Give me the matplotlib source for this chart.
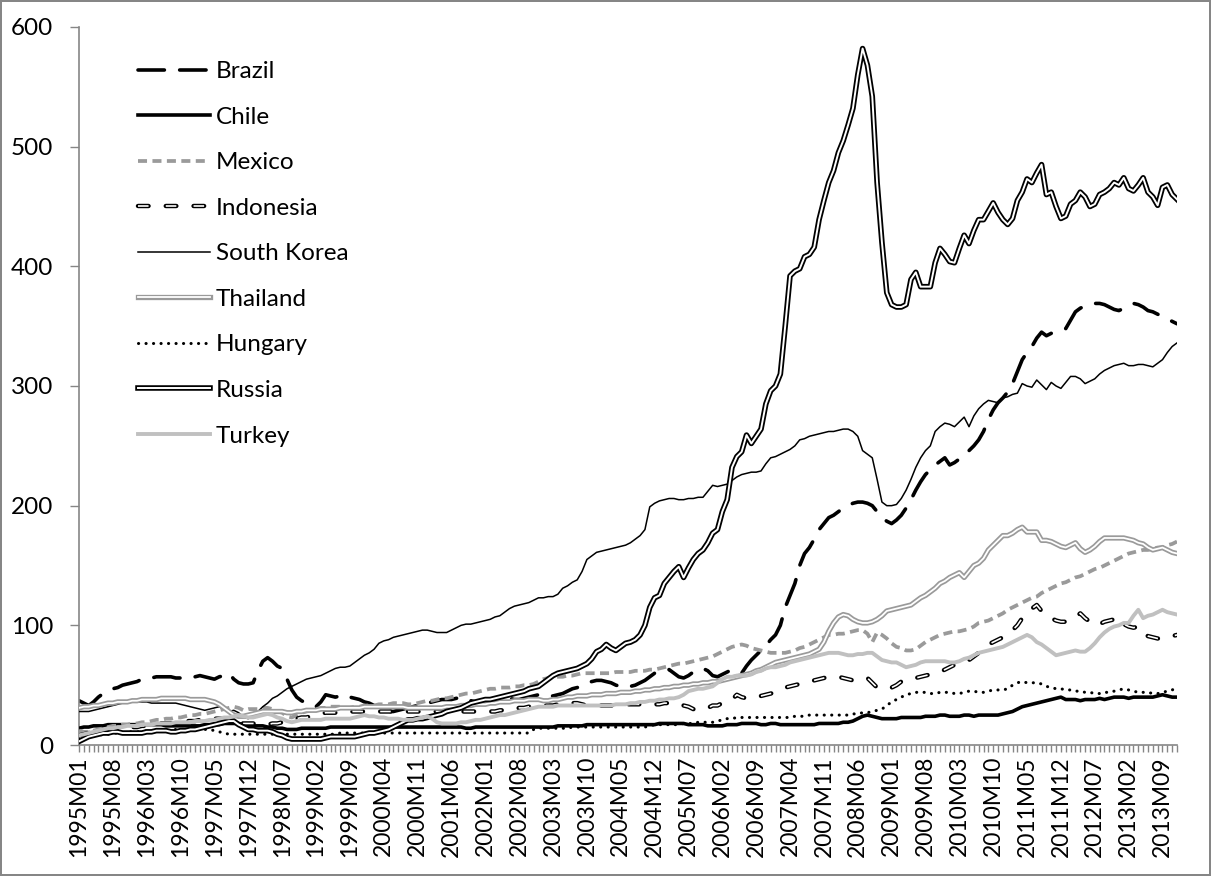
import matplotlib
matplotlib.use('Agg')
import matplotlib.pyplot as plt

plt.rcParams['font.family'] = ['Lato', 'DejaVu Sans']
plt.rcParams['lines.scale_dashes'] = False

# months 1995M01 .. 2013M12
years = list(range(1995, 2014))
months = ['%dM%02d' % (y, m) for y in years for m in range(1, 13)]

brazil = [
    37, 35, 33, 36, 40, 43, 45, 47, 48, 50, 51, 52,
    53, 55, 56, 56, 57, 57, 57, 57, 56, 56, 57, 57,
    57, 58, 57, 56, 55, 57, 58, 60, 55, 52, 51, 51,
    52, 62, 70, 73, 70, 66, 64, 55, 46, 40, 37, 35,
    33, 32, 36, 42, 41, 40, 41, 42, 40, 39, 38, 36,
    35, 33, 31, 29, 28, 28, 29, 30, 31, 32, 33, 34,
    35, 36, 37, 38, 38, 38, 39, 40, 39, 37, 36, 36,
    37, 38, 39, 40, 40, 39, 38, 38, 39, 40, 41, 42,
    42, 41, 41, 42, 43, 45, 47, 48, 50, 52, 53, 54,
    54, 53, 52, 50, 49, 48, 49, 50, 52, 54, 57, 60,
    60, 62, 63, 60, 57, 56, 58, 61, 63, 64, 62, 58,
    57, 59, 61, 63, 62, 60, 66, 71, 75, 79, 83, 88,
    92, 100, 115, 125, 135, 150, 160, 165, 172, 180, 185, 190,
    192, 195, 198, 200, 202, 203, 203, 202, 200, 195, 190, 187,
    185, 188, 192, 198, 205, 213, 220, 226, 230, 234, 237, 240,
    234, 236, 239, 242, 246, 250, 255, 262, 272, 280, 286, 290,
    295, 302, 312, 322, 328, 333, 340, 345, 342, 344, 345, 347,
    348, 355, 362, 365, 367, 368, 369, 369, 368, 366, 364, 363,
    365, 367, 369, 368, 366, 363, 362, 360, 358, 356, 354, 352,
]

chile = [
    14, 15, 15, 16, 16, 16, 17, 17, 17, 17, 17, 17,
    17, 17, 17, 17, 17, 17, 16, 16, 16, 16, 16, 16,
    16, 16, 17, 17, 17, 17, 18, 18, 18, 18, 17, 16,
    16, 16, 16, 15, 15, 14, 14, 13, 13, 13, 14, 14,
    14, 14, 14, 14, 15, 15, 15, 15, 15, 15, 15, 15,
    15, 15, 15, 15, 15, 15, 15, 15, 15, 15, 15, 15,
    15, 15, 15, 15, 15, 15, 15, 15, 14, 14, 15, 15,
    15, 15, 15, 15, 15, 15, 15, 15, 15, 15, 15, 15,
    15, 15, 15, 16, 16, 16, 16, 16, 16, 17, 17, 17,
    17, 17, 17, 17, 17, 17, 17, 17, 17, 17, 17, 17,
    18, 18, 18, 18, 18, 18, 17, 17, 17, 17, 16, 16,
    16, 16, 17, 17, 17, 18, 18, 18, 18, 17, 17, 18,
    18, 17, 17, 17, 17, 17, 17, 17, 17, 18, 18, 18,
    18, 18, 19, 19, 20, 22, 24, 25, 24, 23, 22, 22,
    22, 22, 23, 23, 23, 23, 23, 24, 24, 24, 25, 25,
    24, 24, 24, 25, 25, 24, 25, 25, 25, 25, 25, 26,
    27, 28, 30, 32, 33, 34, 35, 36, 37, 38, 39, 40,
    38, 38, 38, 37, 38, 38, 38, 39, 38, 39, 40, 40,
    40, 39, 40, 40, 40, 40, 40, 41, 42, 41, 40, 40,
]

mexico = [
    12, 11, 11, 12, 13, 14, 15, 16, 16, 17, 17, 18,
    18, 19, 19, 20, 21, 21, 22, 22, 23, 23, 24, 25,
    25, 26, 26, 27, 28, 29, 30, 31, 32, 31, 29, 30,
    30, 30, 31, 31, 30, 28, 27, 24, 23, 25, 27, 28,
    29, 30, 31, 31, 32, 32, 32, 31, 31, 32, 32, 33,
    33, 33, 34, 34, 34, 35, 35, 35, 34, 34, 35, 36,
    37, 37, 38, 39, 39, 40, 41, 42, 43, 43, 44, 45,
    46, 47, 47, 48, 48, 48, 49, 49, 50, 50, 51, 53,
    55, 56, 57, 57, 57, 58, 58, 59, 60, 60, 60, 60,
    60, 60, 60, 61, 61, 61, 61, 62, 62, 62, 63, 63,
    64, 65, 66, 67, 68, 68, 69, 70, 71, 72, 73, 74,
    76, 78, 80, 82, 83, 84, 83, 81, 80, 79, 78, 77,
    77, 77, 77, 78, 79, 81, 82, 84, 86, 88, 90, 92,
    92, 93, 93, 94, 95, 96, 96, 93, 86, 94, 92, 89,
    85, 82, 81, 79, 79, 80, 83, 86, 88, 90, 92, 93,
    94, 95, 95, 96, 97, 99, 102, 103, 104, 106, 108, 110,
    113, 115, 117, 119, 121, 123, 124, 127, 129, 131, 133, 135,
    136, 138, 140, 141, 143, 145, 147, 148, 150, 152, 154, 156,
    158, 160, 161, 162, 163, 163, 164, 165, 165, 167, 168, 170,
]

indonesia = [
    8, 9, 10, 11, 12, 12, 13, 13, 14, 14, 14, 15,
    15, 16, 16, 17, 17, 18, 18, 18, 19, 19, 20, 20,
    20, 21, 21, 22, 22, 22, 22, 21, 20, 19, 18, 18,
    18, 17, 17, 17, 18, 18, 19, 20, 21, 22, 23, 23,
    24, 25, 26, 27, 27, 27, 28, 28, 28, 28, 28, 28,
    28, 28, 28, 28, 28, 28, 28, 28, 28, 28, 28, 28,
    28, 28, 28, 28, 28, 28, 28, 28, 28, 28, 28, 28,
    28, 28, 28, 29, 29, 30, 30, 31, 31, 32, 32, 33,
    33, 33, 33, 34, 34, 34, 35, 35, 34, 33, 33, 33,
    33, 33, 33, 33, 33, 34, 34, 34, 34, 34, 34, 34,
    34, 35, 35, 35, 35, 33, 32, 30, 29, 30, 31, 33,
    33, 35, 36, 38, 42, 40, 39, 39, 40, 41, 42, 43,
    44, 46, 48, 49, 50, 51, 52, 53, 54, 55, 56, 57,
    57, 57, 56, 55, 54, 55, 56, 56, 52, 48, 47, 48,
    48, 50, 53, 55, 56, 56, 57, 58, 59, 60, 61, 63,
    65, 67, 69, 70, 71, 74, 77, 81, 84, 86, 88, 90,
    92, 96, 100, 106, 110, 114, 117, 112, 108, 106, 104, 103,
    103, 104, 107, 110, 106, 103, 100, 101, 103, 104, 105, 107,
    101, 99, 98, 99, 93, 91, 90, 89, 89, 90, 91, 92,
]

south_korea = [
    28, 28, 28, 29, 30, 31, 32, 33, 34, 35, 35, 36,
    36, 36, 36, 35, 35, 35, 35, 35, 35, 34, 33, 32,
    31, 30, 29, 30, 31, 32, 30, 28, 29, 27, 23, 22,
    25, 28, 32, 35, 39, 41, 44, 47, 49, 51, 53, 55,
    56, 57, 58, 60, 62, 64, 65, 65, 66, 69, 72, 75,
    77, 80, 85, 87, 88, 90, 91, 92, 93, 94, 95, 96,
    96, 95, 94, 94, 94, 96, 98, 100, 101, 101, 102, 103,
    104, 105, 107, 108, 111, 114, 116, 117, 118, 119, 121, 123,
    123, 124, 124, 126, 131, 133, 136, 138, 145, 155, 158, 161,
    162, 163, 164, 165, 166, 167, 169, 172, 175, 180, 199, 202,
    204, 205, 206, 206, 205, 205, 206, 206, 207, 207, 212, 217,
    216, 217, 218, 221, 224, 226, 227, 228, 228, 229, 235, 240,
    241, 243, 245, 247, 250, 255, 256, 258, 259, 260, 261, 262,
    262, 263, 264, 264, 262, 258, 246, 243, 240, 222, 203, 200,
    200, 201, 206, 213, 222, 232, 240, 246, 250, 262, 266, 269,
    268, 266, 270, 274, 266, 275, 281, 285, 288, 287, 286, 290,
    291, 293, 294, 302, 300, 299, 305, 301, 297, 303, 300, 298,
    303, 308, 308, 306, 302, 304, 306, 310, 313, 315, 317, 318,
    319, 317, 317, 318, 318, 317, 316, 319, 322, 328, 333, 336,
]

thailand = [
    31, 32, 32, 33, 33, 34, 35, 35, 36, 36, 36, 37,
    37, 38, 38, 38, 38, 39, 39, 39, 39, 39, 39, 38,
    38, 38, 38, 37, 36, 34, 31, 28, 25, 24, 24, 25,
    26, 27, 28, 28, 28, 28, 28, 27, 27, 28, 28, 29,
    29, 29, 30, 30, 30, 30, 31, 31, 31, 31, 31, 32,
    32, 32, 32, 32, 32, 32, 32, 32, 31, 31, 31, 31,
    31, 31, 31, 31, 32, 32, 32, 33, 33, 33, 34, 34,
    34, 35, 35, 36, 36, 36, 37, 37, 37, 38, 38, 38,
    37, 37, 38, 38, 39, 40, 40, 41, 41, 41, 42, 42,
    42, 43, 43, 43, 44, 44, 44, 45, 45, 46, 46, 47,
    47, 48, 48, 49, 49, 50, 50, 51, 51, 52, 52, 53,
    53, 54, 55, 56, 57, 58, 59, 60, 62, 63, 65, 67,
    69, 70, 71, 72, 73, 74, 75, 76, 78, 80, 86, 95,
    102, 107, 109, 108, 105, 103, 102, 102, 103, 105, 108, 112,
    113, 114, 115, 116, 117, 120, 123, 125, 128, 131, 135, 137,
    140, 142, 144, 140, 145, 150, 152, 156, 163, 167, 171, 175,
    175, 177, 180, 182, 178, 178, 178, 171, 171, 170, 168, 166,
    165, 167, 169, 164, 161, 163, 166, 170, 173, 173, 173, 173,
    173, 172, 171, 169, 168, 165, 163, 164, 165, 163, 161, 160,
]

hungary = [
    5, 6, 7, 8, 8, 9, 9, 10, 10, 10, 11, 11,
    11, 11, 12, 12, 12, 12, 12, 12, 13, 13, 13, 13,
    13, 13, 13, 13, 12, 11, 10, 9, 9, 9, 9, 9,
    9, 9, 9, 9, 9, 9, 9, 9, 9, 9, 9, 9,
    9, 9, 9, 9, 9, 9, 10, 10, 10, 10, 10, 10,
    10, 10, 10, 10, 10, 10, 10, 10, 10, 10, 10, 10,
    10, 10, 10, 10, 10, 10, 10, 10, 10, 10, 10, 10,
    10, 10, 10, 10, 10, 10, 10, 10, 10, 10, 13, 14,
    14, 14, 14, 14, 14, 14, 15, 15, 15, 15, 15, 15,
    15, 15, 15, 15, 15, 15, 15, 15, 15, 15, 16, 17,
    17, 17, 17, 17, 17, 18, 18, 18, 19, 19, 19, 19,
    20, 21, 22, 22, 23, 23, 23, 23, 23, 23, 23, 23,
    23, 23, 23, 23, 24, 24, 24, 25, 25, 25, 25, 25,
    25, 25, 25, 25, 26, 26, 27, 27, 28, 29, 30, 33,
    36, 38, 40, 42, 43, 44, 44, 44, 43, 43, 44, 44,
    44, 43, 43, 44, 45, 45, 44, 44, 45, 46, 46, 46,
    47, 50, 52, 53, 52, 52, 52, 51, 49, 48, 47, 47,
    46, 46, 45, 45, 44, 44, 43, 43, 44, 44, 45, 46,
    47, 46, 45, 44, 44, 44, 43, 43, 44, 45, 46, 48,
]

russia = [
    3, 5, 7, 8, 9, 10, 10, 11, 11, 10, 10, 10,
    10, 10, 11, 11, 12, 12, 12, 11, 11, 12, 12, 13,
    13, 14, 15, 16, 17, 18, 19, 20, 20, 17, 15, 13,
    13, 12, 12, 12, 11, 9, 8, 6, 5, 5, 5, 5,
    5, 5, 5, 6, 7, 7, 7, 7, 7, 7, 8, 9,
    10, 10, 11, 12, 13, 15, 17, 19, 21, 21, 22, 22,
    23, 24, 25, 26, 28, 29, 30, 31, 33, 35, 36, 37,
    38, 38, 39, 40, 41, 42, 43, 44, 45, 47, 48, 49,
    52, 55, 58, 60, 61, 62, 63, 64, 66, 68, 72, 78,
    80, 84, 81, 79, 82, 85, 86, 88, 92, 100, 115, 123,
    125, 135, 140, 145, 149, 140, 148, 155, 160, 163, 169, 177,
    180, 195, 205, 232, 241, 245, 259, 252, 258, 264, 285, 296,
    300, 310, 350, 392, 396, 398, 408, 410, 416, 439, 455, 470,
    480, 495, 505, 518, 532, 560, 582, 568, 542, 470, 420, 378,
    368, 366, 366, 368, 389, 395, 383, 383, 383, 403, 415, 410,
    404, 403, 415, 426, 419, 430, 439, 439, 446, 453, 445, 439,
    435, 440, 455, 462, 473, 470, 478, 485, 460, 462, 450, 440,
    442, 452, 455, 462, 458, 450, 452, 460, 462, 465, 470, 468,
    474, 465, 463, 468, 474, 462, 458, 451, 466, 468, 460, 456,
]

turkey = [
    8, 9, 10, 11, 12, 13, 14, 14, 15, 15, 16, 16,
    16, 17, 17, 17, 18, 18, 18, 18, 19, 19, 19, 19,
    20, 20, 20, 21, 21, 22, 23, 23, 24, 25, 24, 23,
    23, 24, 25, 26, 25, 23, 22, 20, 19, 20, 21, 21,
    21, 21, 21, 22, 22, 22, 22, 22, 22, 23, 24, 25,
    24, 24, 23, 23, 22, 22, 22, 21, 21, 21, 22, 23,
    24, 22, 19, 18, 18, 18, 18, 19, 19, 20, 21, 21,
    22, 23, 24, 25, 25, 26, 27, 28, 29, 30, 31, 32,
    32, 32, 32, 33, 33, 33, 33, 33, 33, 33, 33, 33,
    33, 33, 33, 34, 34, 34, 35, 35, 36, 36, 37, 37,
    38, 38, 39, 39, 40, 42, 45, 46, 47, 47, 48, 49,
    52, 55, 57, 57, 58, 58, 58, 59, 61, 62, 64, 65,
    65, 66, 67, 69, 70, 71, 72, 73, 74, 75, 76, 77,
    77, 77, 76, 75, 75, 76, 76, 77, 77, 74, 71, 70,
    69, 69, 67, 65, 66, 67, 69, 70, 70, 70, 70, 70,
    69, 69, 70, 72, 73, 75, 77, 78, 79, 80, 81, 82,
    84, 86, 88, 90, 92, 90, 86, 84, 81, 78, 75, 76,
    77, 78, 79, 78, 78, 81, 85, 90, 94, 97, 99, 100,
    102, 102, 108, 113, 106, 108, 109, 111, 113, 111, 110, 109,
]

y_ticks = [0, 100, 200, 300, 400, 500, 600]

GREY_AX = '#868686'
FS = 17.5

fig = plt.figure(figsize=(12.11, 8.76), dpi=100)
fig.patch.set_facecolor('white')
fig.patch.set_edgecolor(GREY_AX)
fig.patch.set_linewidth(1.5)

ax = fig.add_axes([79 / 1211, 1 - 745 / 876, (1177 - 79) / 1211, (745 - 27) / 876])
x = list(range(len(months)))

# Brazil - thick long dash
l_bra, = ax.plot(x, brazil, color='black', lw=2.6, ls=(0, (19, 11)),
                 dash_capstyle='round', solid_joinstyle='round', zorder=2)
# Chile - thick solid
l_chi, = ax.plot(x, chile, color='black', lw=2.6, zorder=3,
                 solid_joinstyle='round')
# Mexico - grey short dash
l_mex, = ax.plot(x, mexico, color='#9a9a9a', lw=2.7, ls=(0, (6.5, 3.9)), zorder=4)
# Indonesia - outlined dash
l_ind1, = ax.plot(x, indonesia, color='black', lw=3.2, ls=(0, (7.6, 12.4)),
                  dash_capstyle='round', zorder=5)
l_ind2, = ax.plot(x, indonesia, color='white', lw=1.2, ls=(0, (7.6, 12.4)),
                  dash_capstyle='butt', zorder=5.1)
# South Korea - thin solid
l_kor, = ax.plot(x, south_korea, color='black', lw=1.1, zorder=6)
# Thailand - grey double line
l_tha1, = ax.plot(x, thailand, color='#9a9a9a', lw=3.8, zorder=7,
                  solid_joinstyle='round')
l_tha2, = ax.plot(x, thailand, color='white', lw=1.3, zorder=7.1,
                  solid_joinstyle='round')
# Hungary - dotted
l_hun, = ax.plot(x, hungary, color='black', lw=2.2, ls=(0, (0.1, 5.3)),
                 dash_capstyle='round', zorder=8)
# Russia - black double line
l_rus1, = ax.plot(x, russia, color='black', lw=4.0, zorder=9,
                  solid_joinstyle='round')
l_rus2, = ax.plot(x, russia, color='white', lw=1.4, zorder=9.1,
                  solid_joinstyle='round')
# Turkey - light grey solid
l_tur, = ax.plot(x, turkey, color='#c0c0c0', lw=2.8, zorder=10)

ax.set_xlim(0, len(months) - 1)
ax.set_ylim(0, 600)

ax.spines['top'].set_visible(False)
ax.spines['right'].set_visible(False)
for s in ('left', 'bottom'):
    ax.spines[s].set_color(GREY_AX)
    ax.spines[s].set_linewidth(1.2)

ax.set_yticks(y_ticks)
ax.set_yticklabels([str(v) for v in y_ticks], fontsize=FS)
ax.tick_params(axis='y', length=6.5, width=1, color=GREY_AX, pad=12)

ax.set_xticks(x[::7])
ax.set_xticklabels(months[::7], rotation=90, fontsize=16.5)
ax.set_xticks(x, minor=True)
ax.tick_params(axis='x', which='both', length=5, width=1, color=GREY_AX, pad=3)

handles = [l_bra, l_chi, l_mex, (l_ind1, l_ind2), l_kor,
           (l_tha1, l_tha2), l_hun, (l_rus1, l_rus2), l_tur]
labels = ['Brazil', 'Chile', 'Mexico', 'Indonesia', 'South Korea',
          'Thailand', 'Hungary', 'Russia', 'Turkey']
ax.legend(handles, labels, loc='upper left', frameon=False, fontsize=FS,
          bbox_to_anchor=(138 / 1211, 1 - 61 / 876), bbox_transform=fig.transFigure,
          borderpad=0, borderaxespad=0, handlelength=2.96, handletextpad=0.25,
          labelspacing=1.01)

fig.savefig('out.png', dpi=100)
